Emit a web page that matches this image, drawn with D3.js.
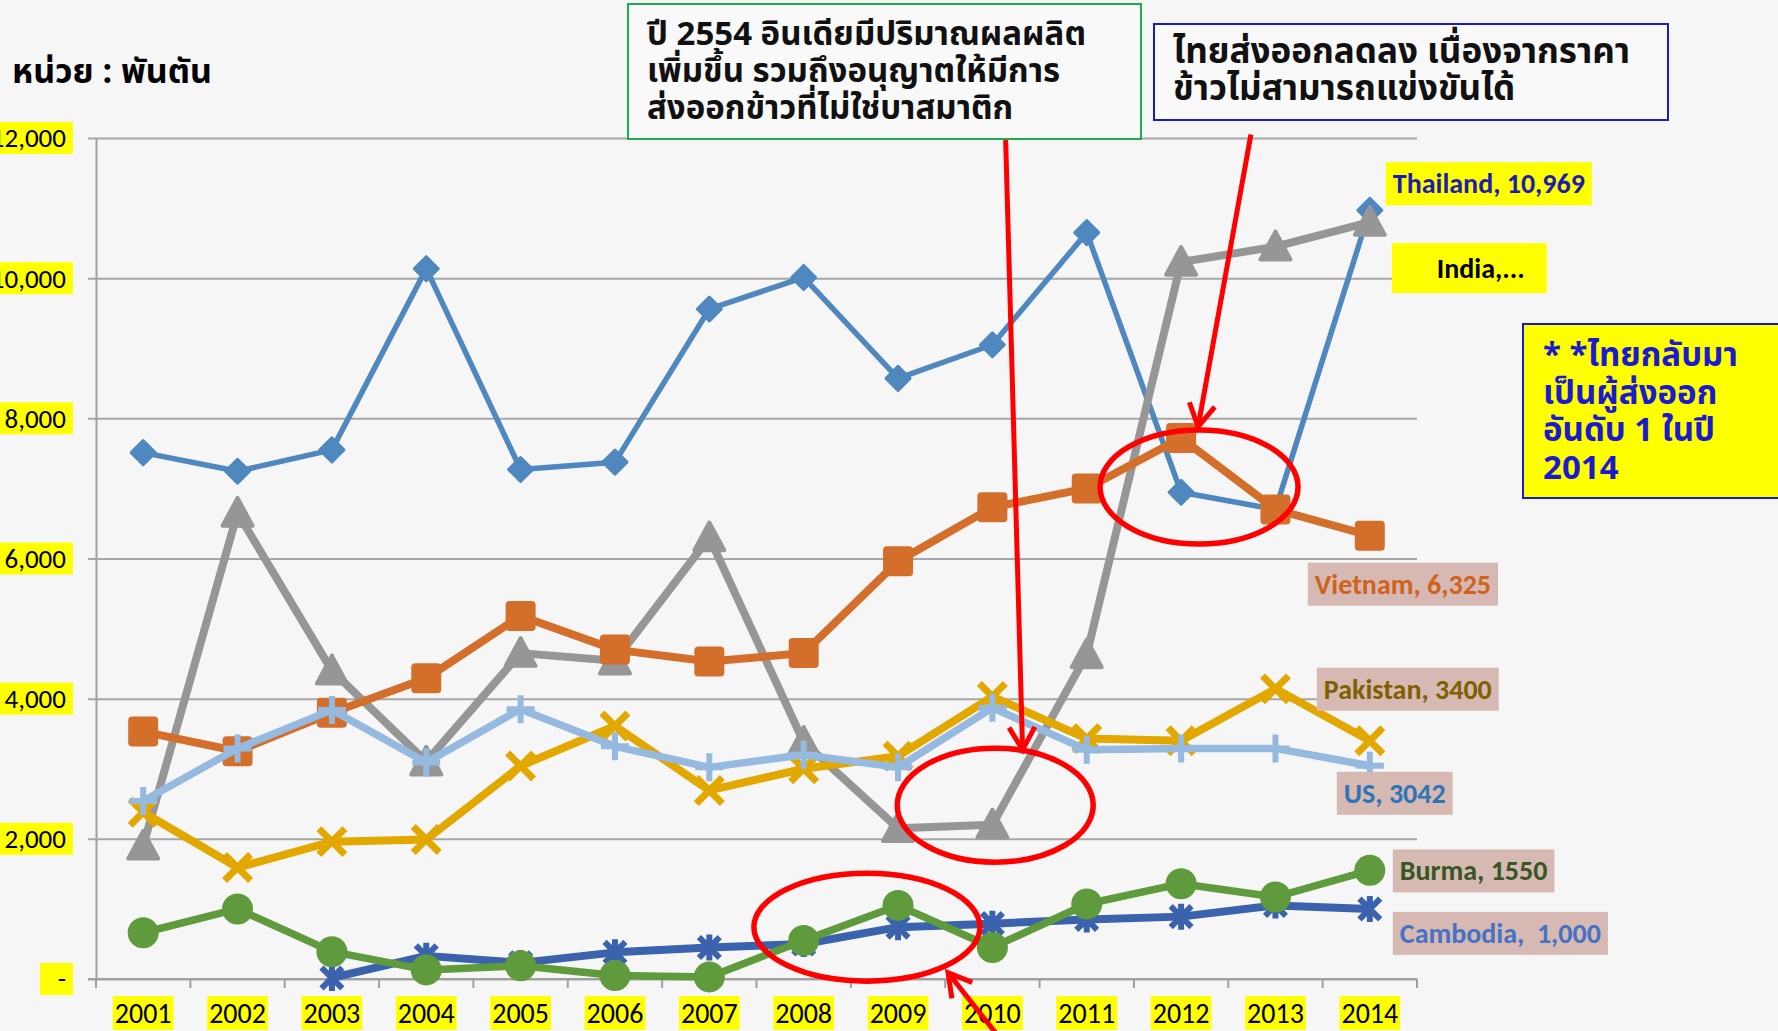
<!DOCTYPE html>
<html><head><meta charset="utf-8">
<script src="https://cdn.jsdelivr.net/npm/d3@7"></script>
<style>
html,body{margin:0;padding:0;background:#f6f6f6;}
svg{display:block;}
</style></head><body>
<svg id="chart" width="1778" height="1031"></svg>
<script>
// Rice exports by country, thousand tonnes
const years = [2001,2002,2003,2004,2005,2006,2007,2008,2009,2010,2011,2012,2013,2014];
const thailand = [7510,7245,7550,10135,7270,7375,9560,10010,8570,9050,10650,6945,6700,10969];
const india    = [1900,6650,4400,3100,4650,4540,6300,3380,2150,2200,4630,10230,10450,10800];
const vietnam  = [3530,3250,3800,4290,5180,4700,4530,4650,5960,6730,7000,7720,6700,6325];
const pakistan = [2380,1590,1960,1990,3040,3610,2690,3000,3180,4030,3430,3400,4140,3400];
const us       = [2540,3290,3840,3090,3850,3320,3020,3200,3020,3870,3270,3290,3290,3042];
const burma    = [660,1000,390,130,190,50,30,550,1050,450,1070,1360,1170,1550];
const cambodia = [null,null,15,330,230,380,450,500,740,790,850,890,1050,1000];

const yTicks = [0,2000,4000,6000,8000,10000,12000];
const yTickLabels = ["-","2,000","4,000","6,000","8,000","10,000","12,000"];
const xTickLabels = years.map(String);

const unitTitle = "หน่วย : พันตัน";
const noteIndia = ["ปี 2554 อินเดียมีปริมาณผลผลิต","เพิ่มขึ้น รวมถึงอนุญาตให้มีการ","ส่งออกข้าวที่ไม่ใช่บาสมาติก"];
const noteThai = ["ไทยส่งออกลดลง เนื่องจากราคา","ข้าวไม่สามารถแข่งขันได้"];
const noteRank = ["* *ไทยกลับมา","เป็นผู้ส่งออก","อันดับ 1 ในปี","2014"];

const LATIN = "Carlito, Calibri, 'Liberation Sans Narrow', 'Arial Narrow', sans-serif";
const THAI = "Tahoma, 'Noto Sans Thai', 'Noto Sans Thai UI', Loma, Garuda, 'Noto Sans', sans-serif";

const svg = d3.select("#chart");
const W = 1778, H = 1031;
const plot = {left: 96, right: 1417, top: 138, bottom: 979};

const x = d3.scalePoint().domain(years).range([plot.left, plot.right]).padding(0.5);
const step = x.step();
const xf = t => x(years[0]) + (t - years[0]) * step;   // fractional year position
const y = d3.scaleLinear().domain([0, 12000]).range([plot.bottom, plot.top]);

// background
svg.append("rect").attr("width", W).attr("height", H).attr("fill", "#f6f6f6");

// gridlines + y axis labels
const yAxis = d3.axisLeft(y).tickValues(yTicks).tickSize(-(plot.right - plot.left)).tickSizeOuter(0).tickFormat("");
const gy = svg.append("g").attr("transform", `translate(${plot.left},0)`).call(yAxis);
gy.select(".domain").attr("stroke", "#a0a0a0").attr("stroke-width", 2);
gy.selectAll(".tick line").attr("stroke", "#a6a6a6").attr("stroke-width", 2).attr("x1", -8);

const yl = svg.append("g");
yTicks.forEach((v, i) => {
  const g = yl.append("g");
  const t = g.append("text").attr("x", 66).attr("y", y(v)).attr("dy", "0.35em")
    .attr("text-anchor", "end").attr("font-family", LATIN).attr("font-size", 27)
    .attr("fill", "#000").text(yTickLabels[i]);
  const b = t.node().getBBox();
  let x0 = b.x - 6, w = 73 - x0;
  if (w < 33) { x0 = 73 - 33; w = 33; }
  g.insert("rect", "text").attr("x", x0).attr("y", y(v) - 16).attr("width", w).attr("height", 32).attr("fill", "#ffff00");
});

// x axis with ticks between categories
const gx = svg.append("g");
gx.append("line").attr("x1", plot.left - 8).attr("x2", plot.right).attr("y1", plot.bottom).attr("y2", plot.bottom)
  .attr("stroke", "#a0a0a0").attr("stroke-width", 2);
d3.range(years.length + 1).forEach(i => {
  const xx = plot.left + i * step;
  gx.append("line").attr("x1", xx).attr("x2", xx).attr("y1", plot.bottom).attr("y2", plot.bottom + 9)
    .attr("stroke", "#a0a0a0").attr("stroke-width", 2);
});
years.forEach((yr, i) => {
  const g = gx.append("g");
  const t = g.append("text").attr("x", x(yr)).attr("y", 1023).attr("text-anchor", "middle")
    .attr("font-family", LATIN).attr("font-size", 28).attr("fill", "#000").text(xTickLabels[i]);
  const b = t.node().getBBox();
  g.insert("rect", "text").attr("x", b.x - 2).attr("y", 996).attr("width", b.width + 4).attr("height", 34).attr("fill", "#ffff00");
});

// marker shapes
const shapes = {
  diamond: (g, c, r) => g.append("path").attr("d", `M0,${-r}L${r},0L0,${r}L${-r},0Z`).attr("fill", c).attr("stroke", c).attr("stroke-width", 3).attr("stroke-linejoin", "round"),
  triangle: (g, c, r) => g.append("path").attr("d", `M0,${-r}L${r},${r*0.85}L${-r},${r*0.85}Z`).attr("fill", c).attr("stroke", c).attr("stroke-width", 4).attr("stroke-linejoin", "round"),
  square: (g, c, r) => g.append("rect").attr("x", -r).attr("y", -r).attr("width", 2*r).attr("height", 2*r).attr("rx", 4).attr("fill", c),
  cross: (g, c, r) => g.append("path").attr("d", `M${-r},${-r}L${r},${r}M${r},${-r}L${-r},${r}`).attr("stroke", c).attr("stroke-width", 7).attr("fill", "none"),
  plus: (g, c, r) => g.append("path").attr("d", `M${-r},0L${r},0M0,${-r}L0,${r}`).attr("stroke", c).attr("stroke-width", 6).attr("fill", "none"),
  circle: (g, c, r) => g.append("circle").attr("r", r).attr("fill", c),
  star: (g, c, r) => g.append("path").attr("d", `M${-r*0.8},${-r*0.8}L${r*0.8},${r*0.8}M${r*0.8},${-r*0.8}L${-r*0.8},${r*0.8}M0,${-r}L0,${r}`).attr("stroke", c).attr("stroke-width", 6).attr("fill", "none")
};

const series = [
  {name: "Thailand", values: thailand, color: "#4f87bf", width: 5.5, shape: "diamond", r: 12},
  {name: "India",    values: india,    color: "#969696", width: 8,   shape: "triangle", r: 15},
  {name: "Vietnam",  values: vietnam,  color: "#d46f2b", width: 8,   shape: "square", r: 15},
  {name: "Pakistan", values: pakistan, color: "#e2a800", width: 8,   shape: "cross", r: 13},
  {name: "US",       values: us,       color: "#96b9e0", width: 7.5, shape: "plus", r: 14},
  {name: "Cambodia", values: cambodia, color: "#3b63ad", width: 8,   shape: "star", r: 13},
  {name: "Burma",    values: burma,    color: "#5f9a3c", width: 7.5, shape: "circle", r: 15.5}
];

const line = d3.line().defined(d => d.v != null).x(d => x(d.year)).y(d => y(d.v));
const gs = svg.append("g");
series.forEach(s => {
  const pts = years.map((yr, i) => ({year: yr, v: s.values[i]}));
  const g = gs.append("g");
  g.append("path").datum(pts).attr("d", line).attr("fill", "none").attr("stroke", s.color)
    .attr("stroke-width", s.width).attr("stroke-linejoin", "round");
  pts.filter(d => d.v != null).forEach(d => {
    const m = g.append("g").attr("transform", `translate(${x(d.year)},${y(d.v)})`);
    shapes[s.shape](m, s.color, s.r);
  });
});

// red highlight ellipses (data space centres)
const rings = [
  {t: 2012.19, v: 7020, rx: 99, ry: 57},
  {t: 2010.03, v: 2480, rx: 98, ry: 57},
  {t: 2008.67, v: 740, rx: 113, ry: 54}
];
rings.forEach(e => svg.append("ellipse").attr("cx", xf(e.t)).attr("cy", y(e.v)).attr("rx", e.rx).attr("ry", e.ry)
  .attr("fill", "none").attr("stroke", "#ff0000").attr("stroke-width", 5.5));

// red arrows
const arrows = [
  {t0: 2010.14, v0: 12000, t1: 2010.32, v1: 3270},
  {t0: 2012.74, v0: 12050, t1: 2012.18, v1: 7880},
  {t0: 2010.10, v0: -880, t1: 2009.53, v1: 90}
];
arrows.forEach(a => {
  const x0 = xf(a.t0), y0 = y(a.v0), x1 = xf(a.t1), y1 = y(a.v1);
  const ang = Math.atan2(y1 - y0, x1 - x0);
  const L = 26, sp = 0.52;
  const g = svg.append("g").attr("stroke", "#ff0000").attr("stroke-width", 5).attr("fill", "none").attr("stroke-linecap", "butt");
  g.append("line").attr("x1", x0).attr("y1", y0).attr("x2", x1).attr("y2", y1);
  g.append("path").attr("stroke-linejoin", "miter").attr("d",
    `M${x1 - L*Math.cos(ang - sp)},${y1 - L*Math.sin(ang - sp)}L${x1},${y1}L${x1 - L*Math.cos(ang + sp)},${y1 - L*Math.sin(ang + sp)}`);
});

// end-of-series value labels
const labels = [
  {text: "Thailand, 10,969", val: thailand[13], dx: 23, dy: -17, fill: "#ffff00", color: "#1c1cb4"},
  {text: "Vietnam, 6,325", val: vietnam[13], dx: -55, dy: 58, fill: "#d5b9b2", color: "#d0621c"},
  {text: "Pakistan, 3400", val: pakistan[13], dx: -46, dy: -42, fill: "#d5b9b2", color: "#7f6000"},
  {text: "US, 3042", val: us[13], dx: -26, dy: 37, fill: "#d5b9b2", color: "#2e75b6"},
  {text: "Burma, 1550", val: burma[13], dx: 30, dy: 10, fill: "#d5b9b2", color: "#375623"},
  {text: "Cambodia,  1,000", val: cambodia[13], dx: 30, dy: 34, fill: "#d5b9b2", color: "#4472c4"}
];
const x14 = x(years[13]);
labels.forEach(l => {
  const g = svg.append("g");
  const t = g.append("text").attr("x", x14 + l.dx).attr("y", y(l.val) + l.dy)
    .attr("font-family", LATIN).attr("font-weight", "bold").attr("font-size", 28)
    .attr("fill", l.color).style("white-space", "pre").text(l.text);
  const b = t.node().getBBox();
  g.insert("rect", "text").attr("x", b.x - 7).attr("y", y(l.val) + l.dy - 31).attr("width", b.width + 14).attr("height", 43).attr("fill", l.fill);
});
// India label (truncated)
{
  const by = y(india[13]) + 56;
  const g = svg.append("g");
  g.append("rect").attr("x", x14 + 22).attr("y", by - 35).attr("width", 155).attr("height", 50).attr("fill", "#ffff00");
  g.append("text").attr("x", x14 + 67).attr("y", by).attr("font-family", LATIN).attr("font-weight", "bold")
    .attr("font-size", 28).attr("fill", "#000").text("India,...");
}

// unit title
svg.append("text").attr("x", 12).attr("y", 83).attr("font-family", THAI).attr("font-weight", "bold")
  .attr("font-size", 34).attr("fill", "#000").text(unitTitle);

// note boxes; each line is fitted to its box width
function noteBox(box, lines, opts) {
  const g = svg.append("g");
  g.append("rect").attr("x", box.x).attr("y", box.y).attr("width", box.w).attr("height", box.h)
    .attr("fill", opts.fill).attr("stroke", opts.stroke).attr("stroke-width", opts.sw);
  lines.forEach((s, i) => g.append("text").attr("x", opts.tx).attr("y", opts.ty + i * opts.lh)
    .attr("font-family", THAI).attr("font-weight", "bold").attr("font-size", opts.fs)
    .attr("fill", opts.color).style("white-space", "pre").text(s));
}
noteBox({x: 628, y: 4, w: 513, h: 135}, noteIndia, {fill: "#f9f9f9", stroke: "#1faa55", sw: 2, tx: 647, ty: 45, lh: 37, fs: 33, color: "#111"});
noteBox({x: 1154, y: 24, w: 514, h: 96}, noteThai, {fill: "#f9f9f9", stroke: "#1a1ac8", sw: 2, tx: 1173, ty: 63, lh: 37, fs: 35, color: "#111"});
noteBox({x: 1523, y: 324, w: 270, h: 174}, noteRank, {fill: "#ffff00", stroke: "#1a1ac8", sw: 2, tx: 1543, ty: 366, lh: 37.5, fs: 33, color: "#1a1ad0"});
</script>
</body></html>
